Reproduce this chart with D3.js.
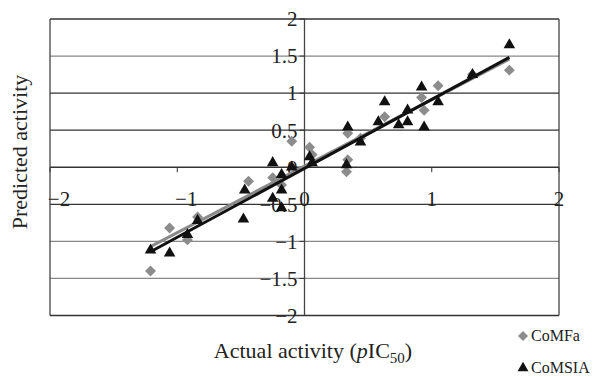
<!DOCTYPE html>
<html>
<head>
<meta charset="utf-8">
<script src="https://cdn.jsdelivr.net/npm/d3@7"></script>
<style>
  body { margin: 0; background: #fff; }
  text { font-family: "Liberation Serif", serif; fill: #222; }
</style>
</head>
<body>
<svg id="chart" width="597" height="377"></svg>
<script>
// values
const comfaX = [-1.21, -1.06, -0.92, -0.84, -0.44, -0.25, -0.18, -0.10, 0.04, 0.06, 0.33, 0.34, 0.34, 0.44, 0.63, 0.92, 0.94, 1.05, 1.32, 1.61];
const comfaY = [-1.40, -0.82, -0.98, -0.67, -0.19, -0.14, -0.24, 0.35, 0.27, 0.17, -0.06, 0.10, 0.46, 0.39, 0.68, 0.94, 0.77, 1.10, 1.25, 1.31];

const comsiaX = [-1.21, -1.06, -0.92, -0.84, -0.48, -0.47, -0.25, -0.25, -0.18, -0.18, -0.18, -0.10, 0.04, 0.06, 0.33, 0.34, 0.44, 0.58, 0.63, 0.74, 0.81, 0.81, 0.92, 0.94, 1.05, 1.32, 1.61];
const comsiaY = [-1.12, -1.16, -0.91, -0.72, -0.70, -0.31, 0.06, -0.42, -0.10, -0.31, -0.55, 0.00, 0.14, 0.06, 0.03, 0.54, 0.34, 0.61, 0.88, 0.57, 0.77, 0.61, 1.08, 0.54, 0.88, 1.25, 1.65];

// trend lines [slope, intercept]
const comfaFit = [0.897, 0.015];
const comsiaFit = [0.930, -0.015];

const xTicks = [-2, -1, 0, 1, 2];
const yTicks = [-2, -1.5, -1, -0.5, 0, 0.5, 1, 1.5, 2];
const seriesNames = ["CoMFa", "CoMSIA"];

const svg = d3.select("#chart");
const plotL = 50, plotR = 559, plotT = 19, plotB = 315.5;

const x = d3.scaleLinear().domain([-2, 2]).range([plotL, plotR]);
const y = d3.scaleLinear().domain([-2, 2]).range([plotB, plotT]);

const fmt = (d) => (d < 0 ? "\u2212" : "") + Math.abs(d);

const g = svg.append("g");

// horizontal grid lines
const lightLines = [1.5, -1, -1.5];
g.selectAll("line.grid")
  .data(yTicks)
  .enter()
  .append("line")
  .attr("x1", plotL)
  .attr("x2", plotR)
  .attr("y1", (d) => y(d))
  .attr("y2", (d) => y(d))
  .attr("stroke", (d) => (lightLines.includes(d) ? "#888" : "#333"))
  .attr("stroke-width", 1.3);

// frame sides and y axis
[plotL, plotR, x(0)].forEach((px) => {
  g.append("line")
    .attr("x1", px).attr("x2", px)
    .attr("y1", plotT).attr("y2", plotB)
    .attr("stroke", "#444").attr("stroke-width", 1.3);
});

// x ticks on the zero line
g.selectAll("line.xt")
  .data(xTicks)
  .enter()
  .append("line")
  .attr("x1", (d) => x(d)).attr("x2", (d) => x(d))
  .attr("y1", y(0)).attr("y2", y(0) + 5)
  .attr("stroke", "#333");

// y ticks on the y axis
g.selectAll("line.yt")
  .data(yTicks)
  .enter()
  .append("line")
  .attr("x1", x(0) - 5).attr("x2", x(0))
  .attr("y1", (d) => y(d)).attr("y2", (d) => y(d))
  .attr("stroke", "#333");

// tick labels
g.selectAll("text.xl")
  .data(xTicks)
  .enter()
  .append("text")
  .attr("x", (d) => x(d) + (d < 0 ? 9 : 0))
  .attr("y", y(0) + 39)
  .attr("text-anchor", "middle")
  .style("font-size", "21px")
  .text(fmt);

g.selectAll("text.yl")
  .data(yTicks)
  .enter()
  .append("text")
  .attr("x", x(0) - 7)
  .attr("y", (d) => y(d))
  .attr("dy", "0.35em")
  .attr("text-anchor", "end")
  .style("font-size", "21px")
  .text(fmt);

// trend lines
const xs = d3.extent(comfaX.concat(comsiaX));
const line = d3.line().x((d) => x(d[0])).y((d) => y(d[1]));
const fitPts = (f) => xs.map((v) => [v, f[0] * v + f[1]]);

g.append("path")
  .attr("d", line(fitPts(comfaFit)))
  .attr("stroke", "#8a8a8a").attr("stroke-width", 3).attr("fill", "none");

// markers
const diamond = d3.symbol().type(d3.symbolSquare).size(60);
const triangle = d3.symbol().type(d3.symbolTriangle).size(58);

g.selectAll("path.comfa")
  .data(d3.zip(comfaX, comfaY))
  .enter()
  .append("path")
  .attr("d", diamond)
  .attr("transform", (d) => `translate(${x(d[0])},${y(d[1])}) rotate(45)`)
  .attr("fill", "#8c8c8c");

g.selectAll("path.comsia")
  .data(d3.zip(comsiaX, comsiaY))
  .enter()
  .append("path")
  .attr("d", triangle)
  .attr("transform", (d) => `translate(${x(d[0])},${y(d[1])})`)
  .attr("fill", "#111");

g.append("path")
  .attr("d", line(fitPts(comsiaFit)))
  .attr("stroke", "#111").attr("stroke-width", 3).attr("fill", "none");

// axis titles
svg.append("text")
  .attr("transform", "translate(27,152) rotate(-90)")
  .attr("text-anchor", "middle")
  .style("font-size", "22px")
  .text("Predicted activity");

const xt = svg.append("text")
  .attr("x", 313)
  .attr("y", 358)
  .attr("text-anchor", "middle")
  .style("font-size", "22px");
xt.append("tspan").text("Actual activity (");
xt.append("tspan").style("font-style", "italic").text("p");
xt.append("tspan").text("IC");
xt.append("tspan").attr("dy", 5).style("font-size", "15px").text("50");
xt.append("tspan").attr("dy", -5).text(")");

// legend
const lg = svg.append("g");
lg.append("path")
  .attr("d", d3.symbol().type(d3.symbolSquare).size(50))
  .attr("transform", "translate(523,336) rotate(45)")
  .attr("fill", "#8c8c8c");
lg.append("path")
  .attr("d", d3.symbol().type(d3.symbolTriangle).size(52))
  .attr("transform", "translate(523,368)")
  .attr("fill", "#111");
lg.selectAll("text")
  .data(seriesNames)
  .enter()
  .append("text")
  .attr("x", 531)
  .attr("y", (d, i) => 341 + i * 32)
  .style("font-size", "16px")
  .text((d) => d);
</script>
</body>
</html>
